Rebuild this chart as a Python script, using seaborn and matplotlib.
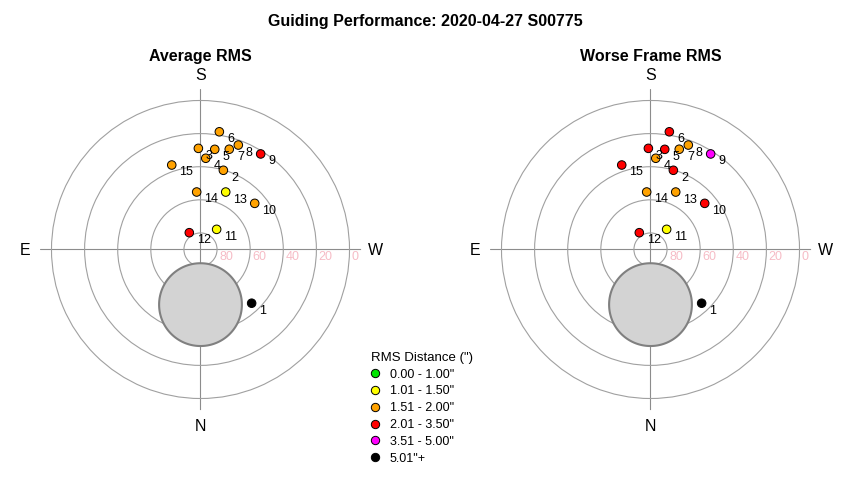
import numpy as np
import pandas as pd
import matplotlib
matplotlib.use("Agg")
import matplotlib.pyplot as plt
from matplotlib.lines import Line2D
import seaborn as sns

# frame numbers and pointing of each guiding frame (degrees)
frames = list(range(1, 16))
azimuth = [316.4, 196.1, 178.8, 183.3, 188.1, 189.1, 196.0, 199.9,
           212.2, 229.6, 218.7, 146.3, 203.7, 176.2, 161.2]
altitude = [45.2, 40.2, 28.9, 34.8, 28.9, 18.0, 27.0, 22.9,
            21.8, 47.0, 74.4, 77.8, 52.1, 55.2, 36.1]

# RMS classes
rms_bins = ['0.00 - 1.00"', '1.01 - 1.50"', '1.51 - 2.00"',
            '2.01 - 3.50"', '3.51 - 5.00"', '5.01"+']
bin_colors = ['#00e600', '#ffff00', '#ffa200', '#ff0000', '#ff00ff', '#000000']

# class index of each frame
avg_bin = [5, 2, 2, 2, 2, 2, 2, 2, 3, 2, 1, 3, 1, 2, 2]
worst_bin = [5, 3, 3, 2, 3, 3, 2, 2, 4, 3, 1, 3, 2, 2, 3]

# grey exclusion disc
zone_az = 0.0
zone_alt = 56.7
zone_radius = 25.0

ring_alts = [80, 60, 40, 20, 0]
compass = {'N': 0, 'E': 90, 'S': 180, 'W': 270}

sns.set_style("white")
plt.rcParams['font.family'] = ['Liberation Sans', 'DejaVu Sans']
plt.rcParams['text.color'] = 'black'

df = pd.DataFrame({
    'frame': frames,
    'theta': np.radians(azimuth),
    'zd': 90 - np.array(altitude),
    'avg': [rms_bins[i] for i in avg_bin],
    'worst': [rms_bins[i] for i in worst_bin],
})
palette = dict(zip(rms_bins, bin_colors))


def draw_sky(ax, col):
    ax.set_theta_zero_location('S')
    ax.set_theta_direction(-1)
    ax.set_ylim(0, 97)
    ax.set_rgrids([90 - a for a in ring_alts], labels=[''] * len(ring_alts))
    ax.set_thetagrids(list(compass.values()), labels=[''] * 4)
    ax.spines['polar'].set_visible(False)
    ax.yaxis.grid(True, color='#a0a0a0', lw=0.8)
    ax.xaxis.grid(True, color='#8c8c8c', lw=0.8)

    # exclusion disc
    t = np.linspace(0, 2 * np.pi, 400)
    cz = 90 - zone_alt
    cx = cz * np.sin(np.radians(zone_az)) + zone_radius * np.cos(t)
    cy = cz * np.cos(np.radians(zone_az)) + zone_radius * np.sin(t)
    ax.fill(np.arctan2(cx, cy), np.hypot(cx, cy), facecolor='#d3d3d3',
            edgecolor='#808080', lw=1.5, zorder=1)

    sns.scatterplot(data=df, x='theta', y='zd', hue=col, hue_order=rms_bins,
                    palette=palette, s=38, edgecolor='black', linewidth=0.7,
                    legend=False, zorder=3, ax=ax)
    ax.set_xlabel('')
    ax.set_ylabel('')

    for f, th, r in zip(df['frame'], df['theta'], df['zd']):
        ax.annotate(str(f), (th, r), xytext=(5.5, -4.3), textcoords='offset points',
                    ha='left', va='center_baseline', fontsize=9, zorder=4)

    for a in ring_alts:
        ax.annotate(str(a), (np.radians(270), 90 - a), xytext=(1.5, -1.2),
                    textcoords='offset points', ha='left', va='top',
                    color='#f6bcc6', fontsize=9)

    for k, a in compass.items():
        ax.text(np.radians(a), 105.7, k, ha='center', va='center_baseline',
                fontsize=11.5)


fig = plt.figure(figsize=(8.5, 4.8), dpi=100)
ax1 = fig.add_axes([0.04694, 0.14563, 0.37788, 0.66917], projection='polar')
ax2 = fig.add_axes([0.57635, 0.14563, 0.37788, 0.66917], projection='polar')
draw_sky(ax1, 'avg')
draw_sky(ax2, 'worst')

fig.text(0.5, 1 - 25.7 / 480, 'Guiding Performance: 2020-04-27 S00775',
         ha='center', va='baseline', fontsize=11.5, fontweight='bold')
fig.text(200.5 / 850, 1 - 60.7 / 480, 'Average RMS', ha='center', va='baseline',
         fontsize=11.5, fontweight='bold')
fig.text(650.5 / 850, 1 - 60.7 / 480, 'Worse Frame RMS', ha='center', va='baseline',
         fontsize=11.5, fontweight='bold')

handles = [Line2D([], [], marker='o', linestyle='', markerfacecolor=c,
                  markeredgecolor='black', markeredgewidth=0.7, markersize=6)
           for c in bin_colors]
leg = fig.legend(handles, rms_bins, loc='upper left',
                 bbox_to_anchor=(371 / 850, 1 - 352 / 480), frameon=False,
                 title='RMS Distance (")', title_fontsize=9.5, fontsize=9,
                 borderpad=0, borderaxespad=0, handlelength=0.65,
                 handletextpad=0.85, labelspacing=0.38, alignment='left')

fig.savefig('out.png', dpi=100)
